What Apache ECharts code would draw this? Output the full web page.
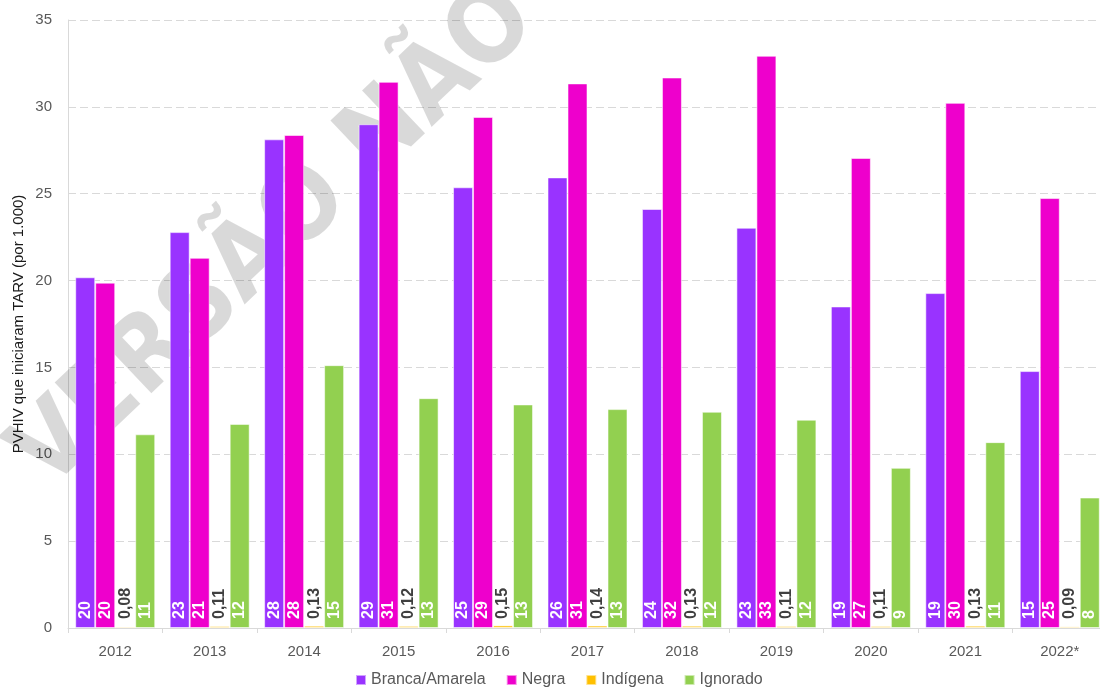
<!DOCTYPE html>
<html>
<head>
<meta charset="utf-8">
<script src="https://cdn.jsdelivr.net/npm/echarts@6/dist/echarts.min.js"></script>
<style>
  html, body { margin: 0; padding: 0; background: #ffffff; }
  #chart { width: 1100px; height: 695px; }
</style>
</head>
<body>
<div id="chart"></div>
<script>
// Taxa de PVHIV que iniciaram TARV (por 1.000), por raça/cor e ano
const years = ['2012', '2013', '2014', '2015', '2016', '2017', '2018', '2019', '2020', '2021', '2022*'];
const brancaAmarela = [20.19, 22.79, 28.13, 29.00, 25.37, 25.94, 24.12, 23.04, 18.51, 19.28, 14.79];
const negra         = [19.88, 21.31, 28.38, 31.44, 29.42, 31.35, 31.69, 32.94, 27.06, 30.23, 24.75];
const indigena      = [0.08, 0.11, 0.13, 0.12, 0.15, 0.14, 0.13, 0.11, 0.11, 0.13, 0.09];
const ignorado      = [11.15, 11.75, 15.13, 13.23, 12.87, 12.60, 12.45, 11.99, 9.22, 10.70, 7.51];

const yTicks = { min: 0, max: 35, interval: 5 };
const yAxisTitle = 'PVHIV que iniciaram TARV (por 1.000)';
const watermark = 'VERSÃO NÃO EDITORADA';

const FONT = '"Liberation Sans", "DejaVu Sans", sans-serif';

const intLabel = p => String(Math.round(p.value));
const decLabel = p => p.value.toFixed(2).replace('.', ',');

function barSeries(name, data, color, labelColor, fmt) {
  return {
    name: name,
    type: 'bar',
    data: data,
    barWidth: 20,
    barGap: '0%',
    itemStyle: { color: color, borderColor: 'rgba(255,255,255,0.55)', borderWidth: 1 },
    label: {
      show: true,
      position: 'insideBottom',
      rotate: 90,
      align: 'left',
      verticalAlign: 'middle',
      distance: 9,
      color: labelColor,
      fontFamily: FONT,
      fontSize: 16,
      fontWeight: 'bold',
      formatter: fmt
    },
    z: 3
  };
}

const chart = echarts.init(document.getElementById('chart'), null, { renderer: 'canvas' });

chart.setOption({
  animation: false,
  backgroundColor: '#ffffff',
  textStyle: { fontFamily: FONT },
  // diagonal watermark, drawn behind the bars
  graphic: [{
    type: 'text',
    x: 30,
    y: 472,
    rotation: 0.76,
    z: 1,
    style: {
      text: watermark,
      font: 'bold 102px "DejaVu Sans Condensed", "DejaVu Sans"',
      fill: 'rgba(0,0,0,0.15)',
      align: 'left',
      verticalAlign: 'middle'
    }
  }],
  grid: { left: 68, right: -7, top: 20, bottom: 67, containLabel: false, outerBoundsMode: 'none' },
  legend: {
    bottom: 2,
    left: 350,
    itemWidth: 10,
    itemHeight: 10,
    itemGap: 20,
    icon: 'rect',
    textStyle: { color: '#595959', fontSize: 16, fontFamily: FONT },
    data: ['Branca/Amarela', 'Negra', 'Indígena', 'Ignorado']
  },
  xAxis: {
    type: 'category',
    data: years,
    axisLine: { lineStyle: { color: '#d9d9d9', width: 1 } },
    axisTick: { show: true, length: 5, lineStyle: { color: '#d9d9d9' } },
    axisLabel: { color: '#595959', fontSize: 15, margin: 16, fontFamily: FONT }
  },
  yAxis: {
    type: 'value',
    min: yTicks.min,
    max: yTicks.max,
    interval: yTicks.interval,
    name: yAxisTitle,
    nameLocation: 'middle',
    nameGap: 42,
    nameMoveOverlap: false,
    nameTextStyle: { color: '#1a1a1a', fontSize: 15, fontFamily: FONT },
    axisLine: { show: true, lineStyle: { color: '#d9d9d9', width: 1 } },
    axisTick: { show: false },
    axisLabel: { color: '#595959', fontSize: 15, margin: 16, fontFamily: FONT },
    splitLine: { lineStyle: { color: '#d9d9d9', type: [8, 4], width: 1 } }
  },
  series: [
    barSeries('Branca/Amarela', brancaAmarela, '#9933ff', '#ffffff', intLabel),
    barSeries('Negra', negra, '#ee00cc', '#ffffff', intLabel),
    barSeries('Indígena', indigena, '#ffc000', '#404040', decLabel),
    barSeries('Ignorado', ignorado, '#92d050', '#ffffff', intLabel)
  ]
});
</script>
</body>
</html>
